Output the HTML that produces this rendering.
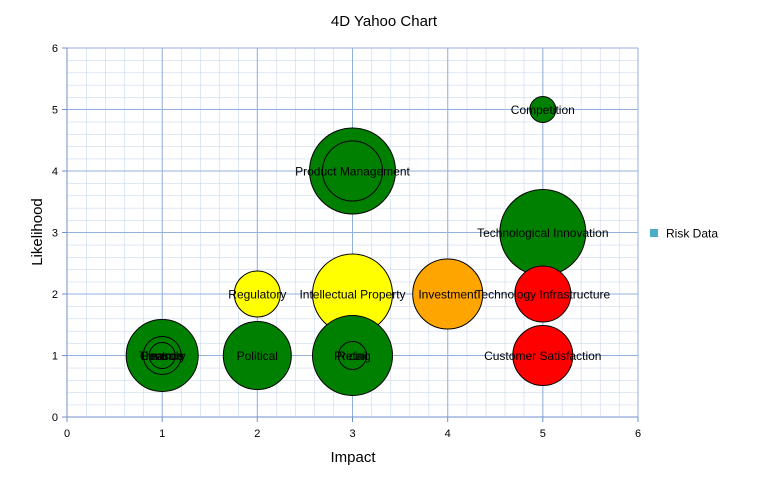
<!DOCTYPE html>
<html><head><style>body{margin:0;background:#fff}svg{display:block;font-family:"Liberation Sans",sans-serif}</style></head>
<body>
<svg width="769" height="503" xmlns="http://www.w3.org/2000/svg">
<defs>
<pattern id="g" x="67" y="48" width="19.033" height="12.3" patternUnits="userSpaceOnUse">
<path d="M0 0V12.3M0 0H19.033" stroke="#bfd0ec" stroke-width="1" fill="none"/>
</pattern>
</defs>
<rect x="67" y="48" width="571" height="369" fill="url(#g)"/>
<g stroke="#93b1dd" stroke-width="1">
<line x1="162.2" y1="48" x2="162.2" y2="417"/><line x1="257.3" y1="48" x2="257.3" y2="417"/><line x1="352.5" y1="48" x2="352.5" y2="417"/><line x1="447.7" y1="48" x2="447.7" y2="417"/><line x1="542.8" y1="48" x2="542.8" y2="417"/><line x1="638" y1="48" x2="638" y2="417"/>
<line x1="67" y1="48" x2="638" y2="48"/><line x1="67" y1="109.5" x2="638" y2="109.5"/><line x1="67" y1="171" x2="638" y2="171"/><line x1="67" y1="232.5" x2="638" y2="232.5"/><line x1="67" y1="294" x2="638" y2="294"/><line x1="67" y1="355.5" x2="638" y2="355.5"/>
</g>
<g stroke="#6f93cc" stroke-width="1">
<line x1="67" y1="48" x2="67" y2="422"/><line x1="62" y1="417" x2="638" y2="417"/>
<line x1="162.2" y1="417" x2="162.2" y2="422"/><line x1="257.3" y1="417" x2="257.3" y2="422"/><line x1="352.5" y1="417" x2="352.5" y2="422"/><line x1="447.7" y1="417" x2="447.7" y2="422"/><line x1="542.8" y1="417" x2="542.8" y2="422"/><line x1="638" y1="417" x2="638" y2="422"/>
<line x1="62" y1="48" x2="67" y2="48"/><line x1="62" y1="109.5" x2="67" y2="109.5"/><line x1="62" y1="171" x2="67" y2="171"/><line x1="62" y1="232.5" x2="67" y2="232.5"/><line x1="62" y1="294" x2="67" y2="294"/><line x1="62" y1="355.5" x2="67" y2="355.5"/>
</g>
<g stroke="#000" stroke-width="1">
<circle cx="542.8" cy="232.5" r="43" fill="#008000"/>
<circle cx="352.5" cy="171" r="43" fill="#008000"/>
<circle cx="352.5" cy="171" r="30" fill="#008000"/>
<circle cx="542.8" cy="109.5" r="13" fill="#008000"/>
<circle cx="352.5" cy="294" r="40" fill="#ffff00"/>
<circle cx="257.3" cy="294" r="23" fill="#ffff00"/>
<circle cx="447.7" cy="294" r="35" fill="#ffa500"/>
<circle cx="542.8" cy="294" r="28" fill="#ff0000"/>
<circle cx="542.8" cy="355.5" r="30" fill="#ff0000"/>
<circle cx="162.2" cy="355.5" r="36" fill="#008000"/>
<circle cx="162.2" cy="355.5" r="19" fill="#008000"/>
<circle cx="162.2" cy="355.5" r="13" fill="#008000"/>
<circle cx="257.3" cy="355.5" r="34" fill="#008000"/>
<circle cx="352.5" cy="355.5" r="40" fill="#008000"/>
<circle cx="352.5" cy="355.5" r="14" fill="#008000"/>
</g>
<g font-size="12" fill="#000" text-anchor="middle">
<text x="542.8" y="114">Competition</text>
<text x="352.5" y="175.5">Product Management</text>
<text x="542.8" y="237">Technological Innovation</text>
<text x="257.3" y="298.5">Regulatory</text>
<text x="352.5" y="298.5">Intellectual Property</text>
<text x="447.7" y="298.5">Investment</text>
<text x="542.8" y="298.5">Technology Infrastructure</text>
<text x="542.8" y="360">Customer Satisfaction</text>
<text x="257.3" y="360">Political</text>
<text x="162.2" y="360">Finance</text>
<text x="162.2" y="360">Treasury</text>
<text x="162.2" y="360">Controls</text>
<text x="352.5" y="360">Retail</text>
<text x="352.5" y="360">Pricing</text>
</g>
<g font-size="11" fill="#000">
<g text-anchor="end">
<text x="58" y="52">6</text><text x="58" y="113.5">5</text><text x="58" y="175">4</text><text x="58" y="236.5">3</text><text x="58" y="298">2</text><text x="58" y="359.5">1</text><text x="58" y="421">0</text>
</g>
<g text-anchor="middle">
<text x="67" y="437">0</text><text x="162.2" y="437">1</text><text x="257.3" y="437">2</text><text x="352.5" y="437">3</text><text x="447.7" y="437">4</text><text x="542.8" y="437">5</text><text x="638" y="437">6</text>
</g>
</g>
<text x="384" y="26" font-size="15" text-anchor="middle">4D Yahoo Chart</text>
<text x="353" y="462" font-size="15" text-anchor="middle">Impact</text>
<text transform="translate(42,232) rotate(-90)" font-size="15" text-anchor="middle">Likelihood</text>
<rect x="650" y="229" width="8" height="8" fill="#4bacc6"/>
<text x="666" y="237.5" font-size="12">Risk Data</text>
</svg>
</body></html>
